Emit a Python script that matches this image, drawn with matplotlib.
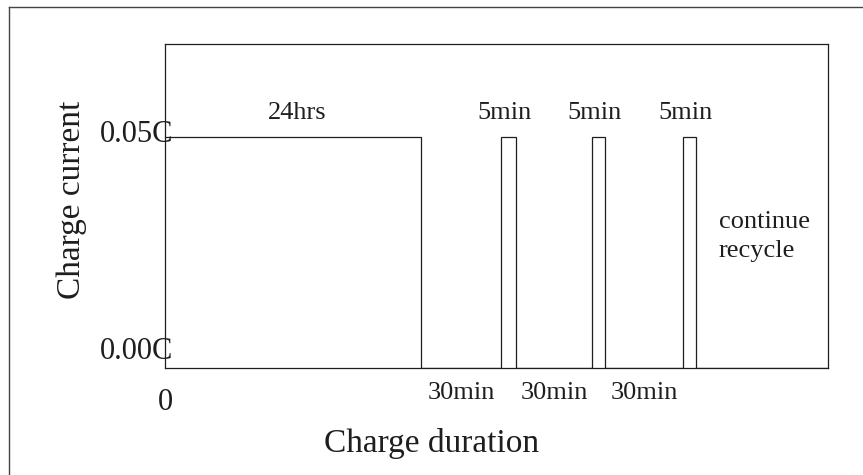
"""
plot.py -- schematic of the pulse charge profile (24 h charge, then 5 min pulses / 30 min rests).
"""
import numpy as np
import matplotlib
matplotlib.use("Agg")
import matplotlib.pyplot as plt
from matplotlib.lines import Line2D

# Schematic data (display widths are not to scale, as in the original sketch)
segment_names = ["24hrs", "30min", "5min", "30min", "5min", "30min", "5min", "continue"]
segment_widths = [256, 80, 15, 76, 13, 78, 13, 132]
segment_current = [0.05, 0.0, 0.05, 0.0, 0.05, 0.0, 0.05, 0.0]
ytick_values = [0.05, 0.0]
ytick_labels = ["0.05C", "0.00C"]

plt.rcParams["font.family"] = ["Liberation Serif", "DejaVu Serif"]
INK = "#1e1e1e"

fig = plt.figure(figsize=(8.63, 4.75), dpi=100)
ax = fig.add_axes([165 / 863, 107 / 475, 663 / 863, 324 / 475])

edges = np.concatenate([[0], np.cumsum(segment_widths)])
xs, ys = [], []
for i, cur in enumerate(segment_current):
    xs += [edges[i], edges[i + 1]]
    ys += [cur, cur]
ax.plot(xs, ys, color=INK, lw=0.9, solid_joinstyle="miter")

ax.set_xlim(0, edges[-1])
ax.set_ylim(0, 0.05 * 324 / 231)
ax.set_xticks([]); ax.set_yticks([])
for sp in ax.spines.values():
    sp.set_color(INK); sp.set_linewidth(0.9)

# y labels sitting on the axis line
ytr = ax.get_yaxis_transform()
ax.text(-0.098, ytick_values[0] + 0.0005, ytick_labels[0], transform=ytr,
        ha="left", va="center", fontsize=22, color=INK, clip_on=False)
ax.text(-0.098, ytick_values[1] + 0.0035, ytick_labels[1], transform=ytr,
        ha="left", va="center", fontsize=22, color=INK, clip_on=False)
ax.text(0, -0.0074, "0", ha="center", va="center", fontsize=22, color=INK, clip_on=False)

# segment annotations
for i, name in enumerate(segment_names):
    mid = (edges[i] + edges[i + 1]) / 2
    if name == "continue":
        ax.text(edges[i] + 23, 0.0285, "continue\nrecycle", ha="left", va="center",
                fontsize=19, color=INK, linespacing=1.45)
    elif segment_current[i] > 0:
        dx = 4 if name == "5min" else -4
        ax.text(mid - dx, 0.0553, name, ha="center", va="center", fontsize=19, color=INK)
    else:
        ax.text(mid, -0.0054, name, ha="center", va="center", fontsize=19,
                color=INK, clip_on=False)

fig.text(0.5, 0.067, "Charge duration", ha="center", va="center", fontsize=24, color=INK)
fig.text(72 / 863, 0.579, "Charge current", ha="center", va="center", rotation=90,
         fontsize=24, color=INK)

# scanned frame (left and top edges only)
fx, fy = 9 / 863, 1 - 7 / 475
fig.add_artist(Line2D([fx, fx], [0, fy], color="#444444", lw=1.0))
fig.add_artist(Line2D([fx, 1], [fy, fy], color="#444444", lw=1.0))

fig.savefig("out.png", dpi=100)
